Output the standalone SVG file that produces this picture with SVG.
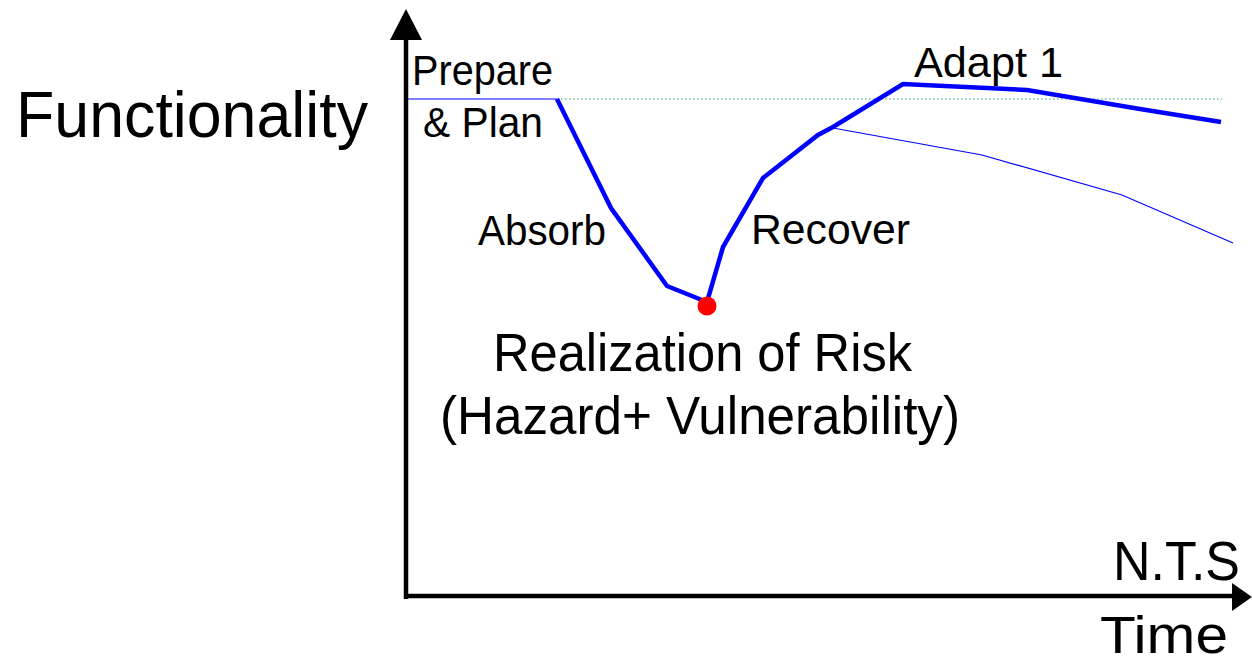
<svg xmlns="http://www.w3.org/2000/svg" width="1252" height="662" viewBox="0 0 1252 662">
  <defs>
    <style>
      .lbl { font-family: "Liberation Sans", Arial, sans-serif; fill: #000; }
      .axis { stroke: #000; stroke-width: 4.5; fill: none; }
      .head { fill: #000; }
      .curve { stroke: #0000ff; stroke-width: 4.5; fill: none; stroke-linejoin: miter; }
      .thin { stroke: #0000ff; stroke-width: 1.2; fill: none; }
      .ref { stroke: #2e9a7a; stroke-width: 1; stroke-dasharray: 1.5 2.5; fill: none; }
    </style>
  </defs>

  <rect width="1252" height="662" fill="#fff"/>

  <!-- axes -->
  <g id="axes">
    <line class="axis" x1="406" y1="599" x2="406" y2="38"/>
    <polygon class="head" points="406,9 390,40 422,40"/>
    <line class="axis" x1="404" y1="596" x2="1234" y2="596"/>
    <polygon class="head" points="1252,597 1232,583 1232,611"/>
  </g>

  <!-- functionality curves -->
  <g id="connectors">
    <line class="ref" x1="557" y1="99" x2="1222" y2="99"/>
    <line class="thin" x1="408" y1="99" x2="557" y2="99"/>
    <polyline class="curve" points="557,99 611,208 667,286 707,302 723,247 763,178 818,135 833,127 903,84 1027,90 1140,109 1221,122"/>
    <polyline class="thin" points="833,128 982,155 1122,195 1233,243"/>
  </g>

  <g id="risk-point">
    <circle cx="707" cy="306" r="9.5" fill="#ff0000"/>
  </g>

  <!-- labels -->
  <g id="label-functionality">
    <text class="lbl" x="16" y="137" font-size="64" textLength="352" lengthAdjust="spacingAndGlyphs">Functionality</text>
  </g>
  <g id="label-prepare">
    <text class="lbl" x="412" y="85" font-size="42" textLength="141" lengthAdjust="spacingAndGlyphs">Prepare</text>
    <text class="lbl" x="423" y="137" font-size="42" textLength="120" lengthAdjust="spacingAndGlyphs">&amp; Plan</text>
  </g>
  <g id="label-absorb">
    <text class="lbl" x="478" y="245" font-size="42" textLength="128" lengthAdjust="spacingAndGlyphs">Absorb</text>
  </g>
  <g id="label-recover">
    <text class="lbl" x="751" y="244" font-size="42" textLength="159" lengthAdjust="spacingAndGlyphs">Recover</text>
  </g>
  <g id="label-adapt">
    <text class="lbl" x="914" y="77" font-size="42" textLength="149" lengthAdjust="spacingAndGlyphs">Adapt 1</text>
  </g>
  <g id="label-risk">
    <text class="lbl" x="493" y="371" font-size="53" textLength="419" lengthAdjust="spacingAndGlyphs">Realization of Risk</text>
    <text class="lbl" x="440" y="434" font-size="53" textLength="520" lengthAdjust="spacingAndGlyphs">(Hazard+ Vulnerability)</text>
  </g>
  <g id="label-nts">
    <text class="lbl" x="1113" y="580" font-size="56" textLength="127" lengthAdjust="spacingAndGlyphs">N.T.S</text>
  </g>
  <g id="label-time">
    <text class="lbl" x="1100" y="653" font-size="51" textLength="128" lengthAdjust="spacingAndGlyphs">Time</text>
  </g>
</svg>
